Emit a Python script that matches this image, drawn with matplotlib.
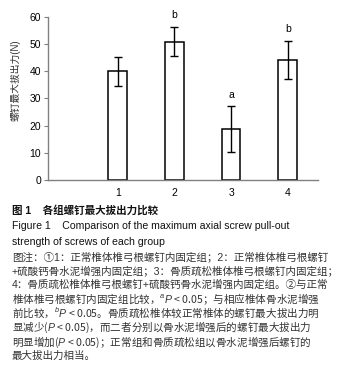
import matplotlib
matplotlib.use('Agg')
import matplotlib.pyplot as plt

plt.rcParams['font.family'] = ['Liberation Sans', 'Noto Sans CJK SC', 'DejaVu Sans']
plt.rcParams['mathtext.fontset'] = 'custom'
plt.rcParams['mathtext.it'] = 'Liberation Sans:italic'
plt.rcParams['mathtext.rm'] = 'Liberation Sans'

# 数据
groups = ['1', '2', '3', '4']
means = [40, 50.8, 18.7, 44.1]
errs = [5.3, 5.4, 8.3, 7.1]
marks = ['', 'b', 'a', 'b']
yticks = [0, 10, 20, 30, 40, 50, 60]

caption = [
    ('图 1    各组螺钉最大拔出力比较', 'bold', '#111111', 7.6),
    ('Figure 1    Comparison of the maximum axial screw pull-out', 'normal', '#111111', 7.6),
    ('strength of screws of each group', 'normal', '#111111', 7.6),
    ('图注：①1：正常椎体椎弓根螺钉内固定组；2：正常椎体椎弓根螺钉', 'normal', '#333333', 7.6),
    ('+硫酸钙骨水泥增强内固定组；3：骨质疏松椎体椎弓根螺钉内固定组；', 'normal', '#333333', 7.6),
    ('4：骨质疏松椎体椎弓根螺钉+硫酸钙骨水泥增强内固定组。②与正常', 'normal', '#333333', 7.6),
    ('椎体椎弓根螺钉内固定组比较，$^{a}P$ < 0.05；与相应椎体骨水泥增强', 'normal', '#333333', 7.6),
    ('前比较，$^{b}P$ < 0.05。骨质疏松椎体较正常椎体的螺钉最大拔出力明', 'normal', '#333333', 7.6),
    ('显减少($P$ < 0.05)，而二者分别以骨水泥增强后的螺钉最大拔出力', 'normal', '#333333', 7.6),
    ('明显增加($P$ < 0.05)；正常组和骨质疏松组以骨水泥增强后螺钉的', 'normal', '#333333', 7.6),
    ('最大拔出力相当。', 'normal', '#333333', 7.6),
]

fig = plt.figure(figsize=(3.47, 3.70), dpi=100)
ax = fig.add_axes([0.138, 0.5135, 0.778, 0.4415])

x = list(range(1, len(groups) + 1))
ax.bar(x, means, width=0.33, color='white', edgecolor='black', linewidth=1.1,
       yerr=errs, capsize=3, error_kw=dict(ecolor='black', elinewidth=1, capthick=1))

for xi, m, e, t in zip(x, means, errs, marks):
    if t:
        ax.annotate(t, (xi, m + e), xytext=(0, 5), textcoords='offset points',
                    ha='center', va='bottom', fontsize=7.5)

ax.set_xlim(-0.23, 4.53)
ax.set_ylim(0, 60)
ax.set_xticks(x)
ax.set_xticklabels(groups)
ax.set_yticks(yticks)
for s in ['top', 'right']:
    ax.spines[s].set_visible(False)
for s in ['left', 'bottom']:
    ax.spines[s].set_color('#808080')
    ax.spines[s].set_linewidth(1)
ax.tick_params(axis='y', length=3, color='#808080', labelsize=7.5, pad=2)
ax.tick_params(axis='x', length=0, labelsize=7.5, pad=6)

fig.text(16 / 347, 1 - 80 / 370, '螺钉最大拔出力(N)', rotation=90, ha='center',
         va='center', fontsize=7, color='#333333')

line_y = [210, 226, 242, 257, 271, 285, 299, 313, 327, 342, 356]
for (txt, w, c, fs), yy in zip(caption, line_y):
    # 含公式的行：非公式部分只用第一个字体，需中文字体在前
    fam = ['Noto Sans CJK SC', 'Liberation Sans'] if '$' in txt else None
    fig.text(12 / 347, 1 - yy / 370, txt, ha='left', va='center', fontsize=fs,
             fontweight=w, color=c, family=fam)

fig.savefig('out.png', dpi=100)
